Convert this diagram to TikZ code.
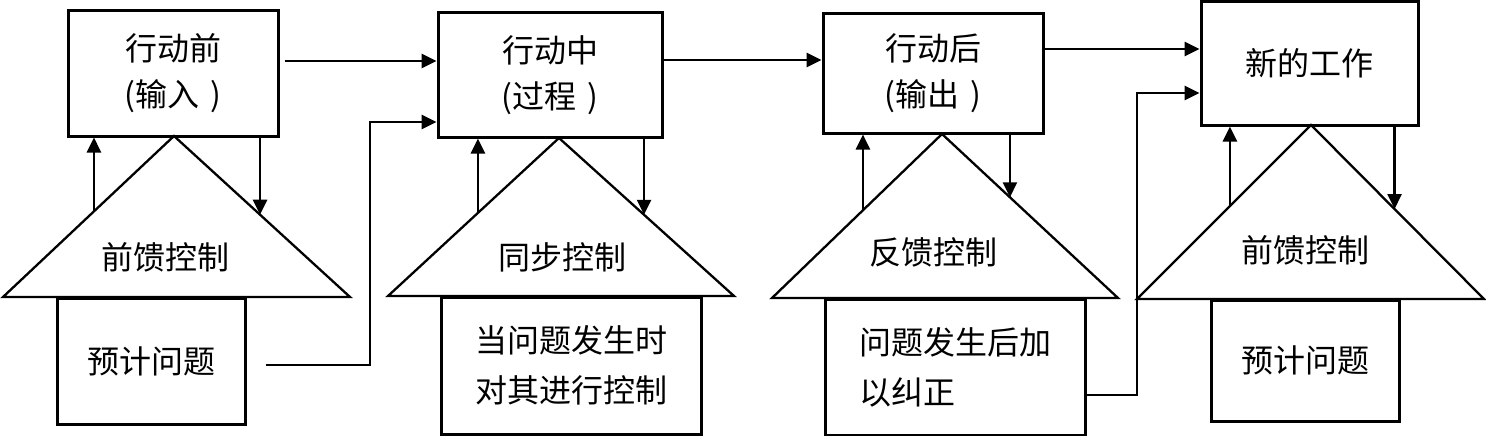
\documentclass[tikz,border=0pt]{standalone}
\usepackage{fontspec}
\setmainfont{Noto Sans CJK SC}
\usetikzlibrary{arrows.meta}
\begin{document}
\begin{tikzpicture}[x=1pt,y=1pt,
  box/.style={draw, line width=3pt, inner sep=0pt, font=\fontsize{32}{46}\selectfont, align=center},
  tri/.style={draw, line width=2.3pt, line join=miter},
  lbl/.style={font=\fontsize{32}{46}\selectfont, inner sep=0pt},
  arr/.style={line width=2.6pt, -{Triangle[length=15pt,width=14pt]}},
  ln/.style={line width=2.6pt}]
\useasboundingbox (0,0) rectangle (1486,-436);

% ---------- unit 1 ----------
\node[box, minimum width=210pt, minimum height=125pt] (b1) at (173,-73.5) {行动前\\(输入\,\,)};
\coordinate (a1) at (174,-136); \coordinate (l1) at (3,-297); \coordinate (r1) at (350,-297);
\draw[tri] (l1) -- coordinate[pos=0.532] (u1) (a1) -- coordinate[pos=0.489] (d1) (r1) -- cycle;
\node[lbl] (t1) at (165,-257) {前馈控制};
\node[box, minimum width=188pt, minimum height=126pt] (p1) at (151,-361) {预计问题};
\draw[arr] (u1) -- (u1 |- b1.south);
\draw[arr] (d1 |- b1.south) -- (d1);

% ---------- unit 2 ----------
\node[box, minimum width=224pt, minimum height=124pt] (b2) at (550,-75) {行动中\\(过程\,\,)};
\coordinate (a2) at (559,-138); \coordinate (l2) at (388,-296); \coordinate (r2) at (734,-296);
\draw[tri] (l2) -- coordinate[pos=0.526] (u2) (a2) -- coordinate[pos=0.486] (d2) (r2) -- cycle;
\node[lbl] (t2) at (562,-257) {同步控制};
\node[box, minimum width=260pt, minimum height=137pt, font=\fontsize{32}{50}\selectfont] (p2) at (571,-365.5) {当问题发生时\\对其进行控制};
\draw[arr] (u2) -- (u2 |- b2.south);
\draw[arr] (d2 |- b2.south) -- (d2);

% ---------- unit 3 ----------
\node[box, minimum width=220pt, minimum height=119pt] (b3) at (933,-73.5) {行动后\\(输出\,\,)};
\coordinate (a3) at (942,-134); \coordinate (l3) at (772,-298); \coordinate (r3) at (1118,-298);
\draw[tri] (l3) -- coordinate[pos=0.535] (u3) (a3) -- coordinate[pos=0.386] (d3) (r3) -- cycle;
\node[lbl] (t3) at (933,-252) {反馈控制};
\node[box, minimum width=260pt, minimum height=136pt, align=left, font=\fontsize{32}{50}\selectfont] (p3) at (955,-367) {问题发生后加\\以纠正};
\draw[arr] (u3) -- (u3 |- b3.south);
\draw[arr] (d3 |- b3.south) -- (d3);

% ---------- unit 4 ----------
\node[box, minimum width=217pt, minimum height=123pt] (b4) at (1309.5,-63.5) {新的工作};
\coordinate (a4) at (1311,-125); \coordinate (l4) at (1137,-299); \coordinate (r4) at (1484,-299);
\draw[tri] (l4) -- coordinate[pos=0.534] (u4) (a4) -- coordinate[pos=0.483] (d4) (r4) -- cycle;
\node[lbl] (t4) at (1305,-250) {前馈控制};
\node[box, minimum width=188pt, minimum height=121pt] (p4) at (1305,-360.5) {预计问题};
\draw[arr] (u4) -- (u4 |- b4.south);
\draw[arr] (d4 |- b4.south) -- (d4);

% ---------- connectors ----------
\draw[arr] ([xshift=5pt]b1.east |- 0,-61) -- (b2.west |- 0,-61);
\draw[arr] (b2.east |- 0,-60) -- (b3.west |- 0,-60);
\draw[arr] (b3.east |- 0,-49) -- (b4.west |- 0,-49);
\coordinate (k1) at (370,-365);
\draw[arr] ([xshift=19pt]p1.east |- k1) -- (k1) |- (b2.west |- 0,-122);
\coordinate (k3) at (1137,-395);
\draw[arr] (p3.east |- k3) -- (k3) |- (b4.west |- 0,-93);
\end{tikzpicture}
\end{document}
